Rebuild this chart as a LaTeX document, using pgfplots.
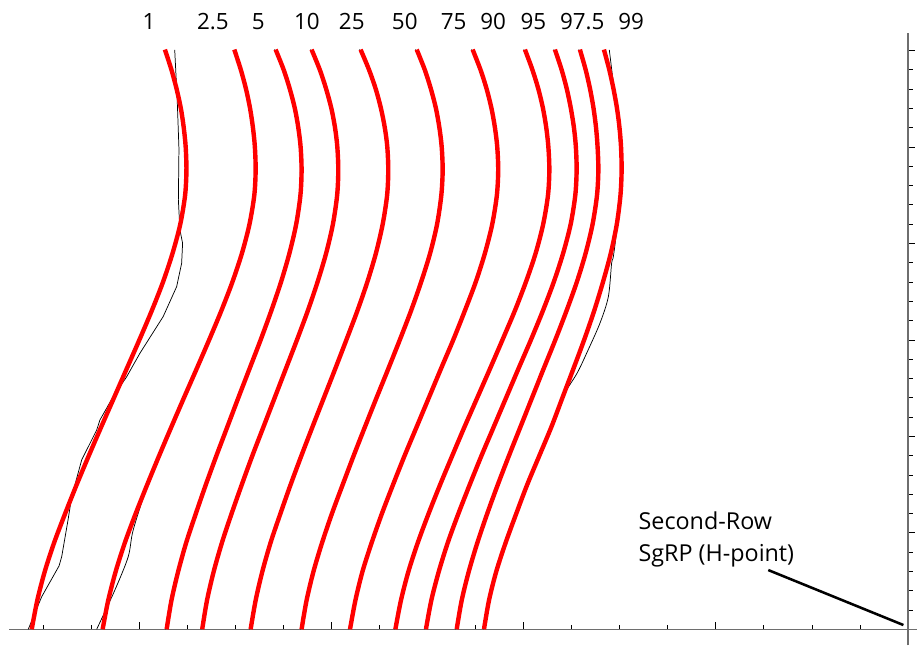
\documentclass[border=0pt]{standalone}
\usepackage{fontspec}
\setmainfont{Open Sans}
\usepackage{pgfplots}
\usepackage{pgfplotstable}
\pgfplotsset{compat=1.18}
\definecolor{cred}{RGB}{255,0,0}
\definecolor{axgray}{RGB}{110,110,110}

% fitted (red) percentile curves: x1=1, x2=2.5, x3=5, x4=10, x5=25, x6=50,
% x7=75, x8=90, x9=95, x10=97.5, x11=99
\pgfplotstableread{
y x1 x2 x3 x4 x5 x6 x7 x8 x9 x10 x11
300.5 -386.6 -350.5 -329.0 -310.3 -284.8 -255.6 -226.5 -199.3 -183.7 -170.7 -158.2
290 -383.2 -347.1 -324.8 -306.0 -280.4 -251.4 -222.4 -195.4 -180.2 -167.7 -155.4
280 -380.5 -344.4 -321.6 -302.7 -276.9 -248.2 -219.2 -192.3 -177.5 -165.4 -153.2
270 -378.3 -342.3 -319.0 -300.0 -274.2 -245.6 -216.7 -189.9 -175.4 -163.6 -151.4
260 -376.8 -340.8 -317.2 -298.1 -272.2 -243.8 -214.9 -188.2 -173.8 -162.3 -150.1
250 -375.8 -339.8 -316.0 -296.9 -270.9 -242.6 -213.7 -187.1 -172.8 -161.5 -149.3
238 -375.4 -339.4 -315.5 -296.4 -270.4 -242.1 -213.2 -186.6 -172.4 -161.1 -149.0
225 -376.1 -340.1 -316.1 -297.0 -271.0 -242.8 -213.9 -187.3 -173.1 -161.8 -149.6
210 -378.6 -342.6 -318.3 -299.2 -273.3 -245.0 -216.3 -189.8 -175.5 -164.1 -151.5
195 -382.6 -346.5 -321.8 -302.7 -276.8 -248.6 -220.1 -193.7 -179.4 -167.7 -154.6
180 -387.6 -351.5 -326.2 -307.2 -281.3 -253.3 -224.9 -198.8 -184.3 -172.3 -158.7
165 -393.5 -357.3 -331.3 -312.3 -286.5 -258.6 -230.6 -204.6 -190.0 -177.7 -163.3
150 -399.9 -363.6 -336.8 -317.9 -292.2 -264.4 -236.6 -211.0 -196.2 -183.5 -168.5
135 -406.5 -370.1 -342.6 -323.7 -298.0 -270.4 -243.0 -217.5 -202.7 -189.6 -174.1
120 -413.1 -376.7 -348.4 -329.5 -303.9 -276.5 -249.3 -224.1 -209.1 -195.6 -179.8
105 -419.7 -383.2 -354.1 -335.3 -309.8 -282.5 -255.6 -230.7 -215.5 -201.6 -185.5
90 -426.2 -389.6 -359.8 -341.1 -315.6 -288.4 -261.9 -237.1 -221.9 -207.6 -191.8
75 -432.5 -395.8 -365.3 -346.6 -321.2 -294.1 -267.9 -243.4 -228.0 -213.4 -198.1
60 -438.5 -401.8 -370.5 -351.9 -326.5 -299.7 -273.7 -249.4 -233.9 -218.9 -203.8
45 -444.2 -407.4 -375.5 -356.9 -331.6 -304.8 -279.0 -255.0 -239.4 -224.0 -209.3
30 -449.1 -412.2 -379.7 -361.2 -335.9 -309.3 -283.8 -259.9 -244.1 -228.5 -214.2
15 -453.0 -416.1 -383.2 -364.7 -339.4 -312.9 -287.5 -263.8 -248.0 -232.2 -218.0
0 -455.9 -419.0 -385.7 -367.2 -342.0 -315.5 -290.3 -266.7 -250.8 -234.8 -220.6
}\fitted

\begin{document}
\begin{tikzpicture}
\begin{axis}[
  x=1.4415pt, y=1.44675pt,
  axis lines=middle,
  axis line style={axgray, line width=0.9pt, -},
  xmin=-467.5, xmax=4.7, ymin=-8.3, ymax=309.3,
  xtick={-400,-300,-200,-100,0},
  ytick={0,50,100,150,200,250,300},
  minor xtick={-450,-425,...,-25},
  minor ytick={10,20,...,290},
  xticklabels={}, yticklabels={},
  tick align=inside,
  major tick length=5.6pt, minor tick length=3.4pt,
  every tick/.style={black, line width=0.6pt},
  clip=false,
]
% empirical (thin black) curves
\addplot[black, line width=0.55pt] coordinates {
(-381.5,300.3) (-380.2,274.4) (-379.3,249.1) (-379.6,222.6) (-378.8,207.0)
(-377.4,200.1) (-377.9,189.7) (-380.5,177.6) (-387.5,162.1) (-399.6,143.1)
(-406.5,130.9) (-413.5,120.6) (-420.4,108.5) (-422.1,103.3) (-429.9,87.8)
(-435.1,68.7) (-437.0,56.7) (-440.3,37.6) (-441.7,32.8) (-450.7,16.9) (-457.7,0)};
\addplot[black, line width=0.55pt, smooth] coordinates {
(-350.1,300.5) (-346.7,290) (-344.0,280) (-341.9,270) (-340.4,260) (-339.4,250)
(-339.0,238) (-339.7,225) (-342.2,210) (-346.1,195) (-351.1,180) (-356.9,165)
(-363.2,150) (-369.7,135) (-376.3,120) (-381.4,108.5) (-388.7,91.2)
(-395.9,73.9) (-403.1,51.5) (-405.7,37.6) (-412.6,20.4) (-422.1,0)};
\addplot[black, line width=0.55pt, smooth] coordinates {
(-155.4,300.3) (-153.3,283.0) (-151.0,262.3) (-149.4,236.4) (-151.6,207.0)
(-153.3,193.2) (-154.2,189.7) (-155.9,172.4) (-160.3,158.6) (-167.2,143.1)
(-172.2,132.7) (-180.0,120) (-185.9,105) (-192.2,90) (-198.5,75)
(-204.2,60) (-209.7,45) (-214.6,30) (-218.4,15) (-221.0,0)};
\addplot[black, line width=0.55pt, smooth, xshift=-0.9pt] table[x=x3, y=y] {\fitted};
\addplot[black, line width=0.55pt, smooth, xshift=-0.9pt] table[x=x4, y=y] {\fitted};
\addplot[black, line width=0.55pt, smooth, xshift=-0.9pt] table[x=x5, y=y] {\fitted};
\addplot[black, line width=0.55pt, smooth, xshift=-0.9pt] table[x=x6, y=y] {\fitted};
\addplot[black, line width=0.55pt, smooth, xshift=-0.9pt] table[x=x7, y=y] {\fitted};
\addplot[black, line width=0.55pt, smooth, xshift=-0.9pt] table[x=x8, y=y] {\fitted};
\addplot[black, line width=0.55pt, smooth, xshift=-0.9pt] table[x=x9, y=y] {\fitted};
\addplot[black, line width=0.55pt, smooth, xshift=-0.9pt] table[x=x10, y=y] {\fitted};
% fitted (red) curves
\addplot[cred, line width=3.3pt, smooth] table[x=x1, y=y] {\fitted};
\addplot[cred, line width=3.3pt, smooth] table[x=x2, y=y] {\fitted};
\addplot[cred, line width=3.3pt, smooth] table[x=x3, y=y] {\fitted};
\addplot[cred, line width=3.3pt, smooth] table[x=x4, y=y] {\fitted};
\addplot[cred, line width=3.3pt, smooth] table[x=x5, y=y] {\fitted};
\addplot[cred, line width=3.3pt, smooth] table[x=x6, y=y] {\fitted};
\addplot[cred, line width=3.3pt, smooth] table[x=x7, y=y] {\fitted};
\addplot[cred, line width=3.3pt, smooth] table[x=x8, y=y] {\fitted};
\addplot[cred, line width=3.3pt, smooth] table[x=x9, y=y] {\fitted};
\addplot[cred, line width=3.3pt, smooth] table[x=x10, y=y] {\fitted};
\addplot[cred, line width=3.3pt, smooth] table[x=x11, y=y] {\fitted};
% percentile labels
\node[anchor=base, font=\fontsize{16.8}{20}\selectfont] at (axis cs:-394.9,311) {1};
\node[anchor=base, font=\fontsize{16.8}{20}\selectfont] at (axis cs:-361.6,311) {2.5};
\node[anchor=base, font=\fontsize{16.8}{20}\selectfont] at (axis cs:-338.0,311) {5};
\node[anchor=base, font=\fontsize{16.8}{20}\selectfont] at (axis cs:-312.7,311) {10};
\node[anchor=base, font=\fontsize{16.8}{20}\selectfont] at (axis cs:-289.4,311) {25};
\node[anchor=base, font=\fontsize{16.8}{20}\selectfont] at (axis cs:-261.8,311) {50};
\node[anchor=base, font=\fontsize{16.8}{20}\selectfont] at (axis cs:-236.4,311) {75};
\node[anchor=base, font=\fontsize{16.8}{20}\selectfont] at (axis cs:-215.8,311) {90};
\node[anchor=base, font=\fontsize{16.8}{20}\selectfont] at (axis cs:-194.9,311) {95};
\node[anchor=base, font=\fontsize{16.8}{20}\selectfont] at (axis cs:-169.5,311) {97.5};
\node[anchor=base, font=\fontsize{16.8}{20}\selectfont] at (axis cs:-144.0,311) {99};
\node[anchor=base west, inner sep=0pt, font=\fontsize{17.5}{21}\selectfont] at (axis cs:-140.3,51.8) {Second-Row};
\node[anchor=base west, inner sep=0pt, font=\fontsize{17.5}{21}\selectfont] at (axis cs:-140.3,35.0) {SgRP (H-point)};
\draw[black, line width=1.9pt] (axis cs:-72.7,30.7) -- (axis cs:-2.4,2.2);
\coordinate (bl) at (axis cs:-472.4,-9.18);
\coordinate (tr) at (axis cs:4.68,326.2);
\end{axis}
\pgfresetboundingbox
\path (bl) rectangle (tr);
\end{tikzpicture}
\end{document}
